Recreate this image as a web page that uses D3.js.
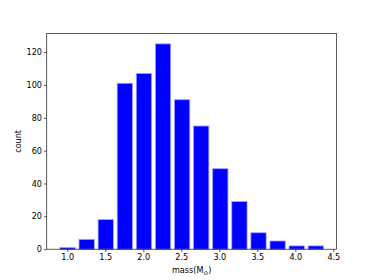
<!DOCTYPE html>
<html><head><meta charset="utf-8">
<script src="https://cdn.jsdelivr.net/npm/d3@7"></script>
<style>body{margin:0;background:#fff}svg{display:block}text{font-family:"DejaVu Sans",sans-serif}</style>
</head><body>
<svg id="c" width="374" height="280"></svg>
<script>
const binStart = 0.878;
const binWidth = 0.2512;
const counts = [1, 6, 18, 101, 107, 125, 91, 75, 49, 29, 10, 5, 2, 2];
const xTicks = [1.0, 1.5, 2.0, 2.5, 3.0, 3.5, 4.0, 4.5];
const yTicks = [0, 20, 40, 60, 80, 100, 120];

const svg = d3.select("#c");
const L = 46.75, R = 336.6, T = 33.6, B = 249.2;
const rw = 0.8;
const bars = counts.map((c, i) => ({x0: binStart + i*binWidth + binWidth*(1-rw)/2, x1: binStart + (i+1)*binWidth - binWidth*(1-rw)/2, c}));
const dMin = bars[0].x0, dMax = bars[bars.length-1].x1, dr = dMax - dMin;
const x = d3.scaleLinear().domain([dMin - 0.05*dr, dMax + 0.05*dr]).range([L, R]);
const y = d3.scaleLinear().domain([0, d3.max(counts)*1.05]).range([B, T]);

svg.append("g").selectAll("rect").data(bars).join("rect")
  .attr("x", d => x(d.x0)).attr("width", d => x(d.x1) - x(d.x0))
  .attr("y", d => y(d.c)).attr("height", d => y(0) - y(d.c))
  .attr("fill", "#0000ff").attr("stroke", "#a0a0ff").attr("stroke-width", 0.8);

const fs = "8.1px";
const gx = svg.append("g").attr("transform", `translate(0,${B})`)
  .call(d3.axisBottom(x).tickValues(xTicks).tickFormat(d3.format(".1f")).tickSize(2.8).tickPadding(2));
const gy = svg.append("g").attr("transform", `translate(${L},0)`)
  .call(d3.axisLeft(y).tickValues(yTicks).tickFormat(d3.format("d")).tickSize(2.8).tickPadding(2));
[gx, gy].forEach(g => {
  g.select(".domain").remove();
  g.selectAll("text").attr("font-size", fs).attr("fill", "#000").attr("font-family", "DejaVu Sans");
  g.selectAll("line").attr("stroke", "#000").attr("stroke-width", 0.65);
});
svg.append("rect").attr("x", L).attr("y", T).attr("width", R-L).attr("height", B-T)
  .attr("fill", "none").attr("stroke", "#000").attr("stroke-width", 0.65);

const xl = svg.append("text").attr("x", (L+R)/2).attr("y", 273).attr("text-anchor", "middle").attr("font-size", fs);
xl.append("tspan").text("mass(M");
xl.append("tspan").attr("font-size", "5.7px").attr("dy", 1.8).text("⊙");
xl.append("tspan").attr("dy", -1.8).text(")");
svg.append("text").attr("transform", `translate(21,${(T+B)/2}) rotate(-90)`).attr("text-anchor", "middle").attr("font-size", fs).text("count");
</script>
</body></html>
